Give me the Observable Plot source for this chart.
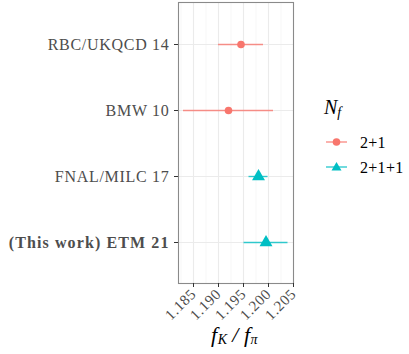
<!DOCTYPE html>
<html><head><meta charset="utf-8">
<script src="https://cdn.jsdelivr.net/npm/d3@7"></script>
<script src="https://cdn.jsdelivr.net/npm/@observablehq/plot@0.6"></script>
<style>
body{margin:0;background:#fff;}
#wrap{position:relative;width:409px;height:354px;font-family:"Liberation Serif",serif;overflow:hidden;}
#xlab{position:absolute;left:211px;top:324px;font-size:22px;line-height:22px;font-style:italic;color:#000;white-space:nowrap;letter-spacing:0.5px;}
.sb{font-size:14px;vertical-align:baseline;position:relative;top:2px;}
#legend{position:absolute;left:322px;top:97px;color:#000;}
</style></head>
<body><div id="wrap"><div id="chart"></div><div id="xlab"></div><div id="legend"></div></div>
<script>
const studies = ["RBC/UKQCD 14", "BMW 10", "FNAL/MILC 17", "(This work) ETM 21"];
const values = [1.1945, 1.192, 1.1980, 1.1995];
const errors = [0.0045, 0.009, 0.0019, 0.0044];
const nf = ["2+1", "2+1", "2+1+1", "2+1+1"];
const nfLevels = ["2+1", "2+1+1"];
const nfColors = ["#F8766D", "#00BFC4"];
const xTicks = [1.185, 1.190, 1.195, 1.200, 1.205];
const xMinor = [1.1825, 1.1875, 1.1925, 1.1975, 1.2025];

const data = studies.map((s, i) => ({study: s, v: values[i], lo: values[i] - errors[i], hi: values[i] + errors[i], nf: nf[i]}));

const font = "Liberation Serif";
const chart = Plot.plot({
  width: 409, height: 354,
  marginLeft: 178, marginRight: 116, marginTop: 2, marginBottom: 71,
  style: {fontFamily: font, background: "#fff"},
  x: {domain: [1.182, 1.205]},
  y: {type: "point", domain: studies, padding: 0.6},
  color: {domain: nfLevels, range: nfColors},
  marks: [
    Plot.gridX(xMinor, {stroke: "#f2f2f2", strokeOpacity: 1, strokeWidth: 0.6}),
    Plot.gridX(xTicks, {stroke: "#ebebeb", strokeOpacity: 1, strokeWidth: 1.1}),
    Plot.gridY(studies, {stroke: "#ebebeb", strokeOpacity: 1, strokeWidth: 1.1}),
    Plot.ruleY(data, {y: "study", x1: "lo", x2: "hi", stroke: "nf", strokeWidth: 1.4, strokeOpacity: 0.8}),
    Plot.dot(data.filter(d => d.nf === "2+1"), {x: "v", y: "study", fill: "nf", r: 3.8, symbol: "circle"}),
    Plot.dot(data.filter(d => d.nf === "2+1+1"), {x: "v", y: "study", fill: "nf", r: 4.8, symbol: "triangle"}),
    Plot.frame({stroke: "#8a8a8a", strokeWidth: 1.1}),
    Plot.axisY({ticks: studies.slice(0, 3), tickSize: 4, tickPadding: 5, fontSize: 16, color: "#4d4d4d", stroke: "#333", label: null}),
    Plot.axisY({ticks: studies.slice(3), tickSize: 4, tickPadding: 5, fontSize: 16, fontWeight: "bold", color: "#4d4d4d", stroke: "#333", label: null}),
    Plot.axisX({ticks: xTicks, tickFormat: d3.format(".3f"), tickSize: 4, tickPadding: 4, tickRotate: -45, fontSize: 15, color: "#4d4d4d", stroke: "#333", label: null})
  ]
});
document.getElementById("chart").appendChild(chart);
// widen the serif labels to approach the Computer Modern metrics of the reference
d3.select(chart).selectAll('g[aria-label="y-axis tick label"]').each(function () {
  const bold = this.getAttribute("font-weight") === "bold";
  d3.select(this).selectAll("text").style("letter-spacing", bold ? "1.1px" : "0.7px");
});
d3.select(chart).selectAll('g[aria-label="x-axis tick label"] text').style("letter-spacing", "0.6px");

document.getElementById("xlab").innerHTML = 'f<span class="sb">K</span>&thinsp;/&thinsp;f<span class="sb">π</span>';

let html = '<div style="font-size:20px;font-style:italic;margin-left:2px;line-height:20px;">N<span class="sb" style="top:3px">f</span></div>';
html += '<svg width="90" height="66" style="display:block;margin-top:3px;font-family:Liberation Serif">';
nfLevels.forEach((lv, i) => {
  const y = 19 + i * 25;
  html += `<line x1="4" x2="25" y1="${y}" y2="${y}" stroke="${nfColors[i]}" stroke-width="1.4" stroke-opacity="0.8"/>`;
  if (i === 0) html += `<circle cx="14.5" cy="${y}" r="3.8" fill="${nfColors[i]}"/>`;
  else html += `<path d="M14.5,${y-5} L19.5,${y+3.5} L9.5,${y+3.5}Z" fill="${nfColors[i]}"/>`;
  html += `<text x="38" y="${y + 5.5}" font-size="16" fill="#000" style="letter-spacing:0.3px">${lv}</text>`;
});
html += '</svg>';
document.getElementById("legend").innerHTML = html;
</script></body></html>
